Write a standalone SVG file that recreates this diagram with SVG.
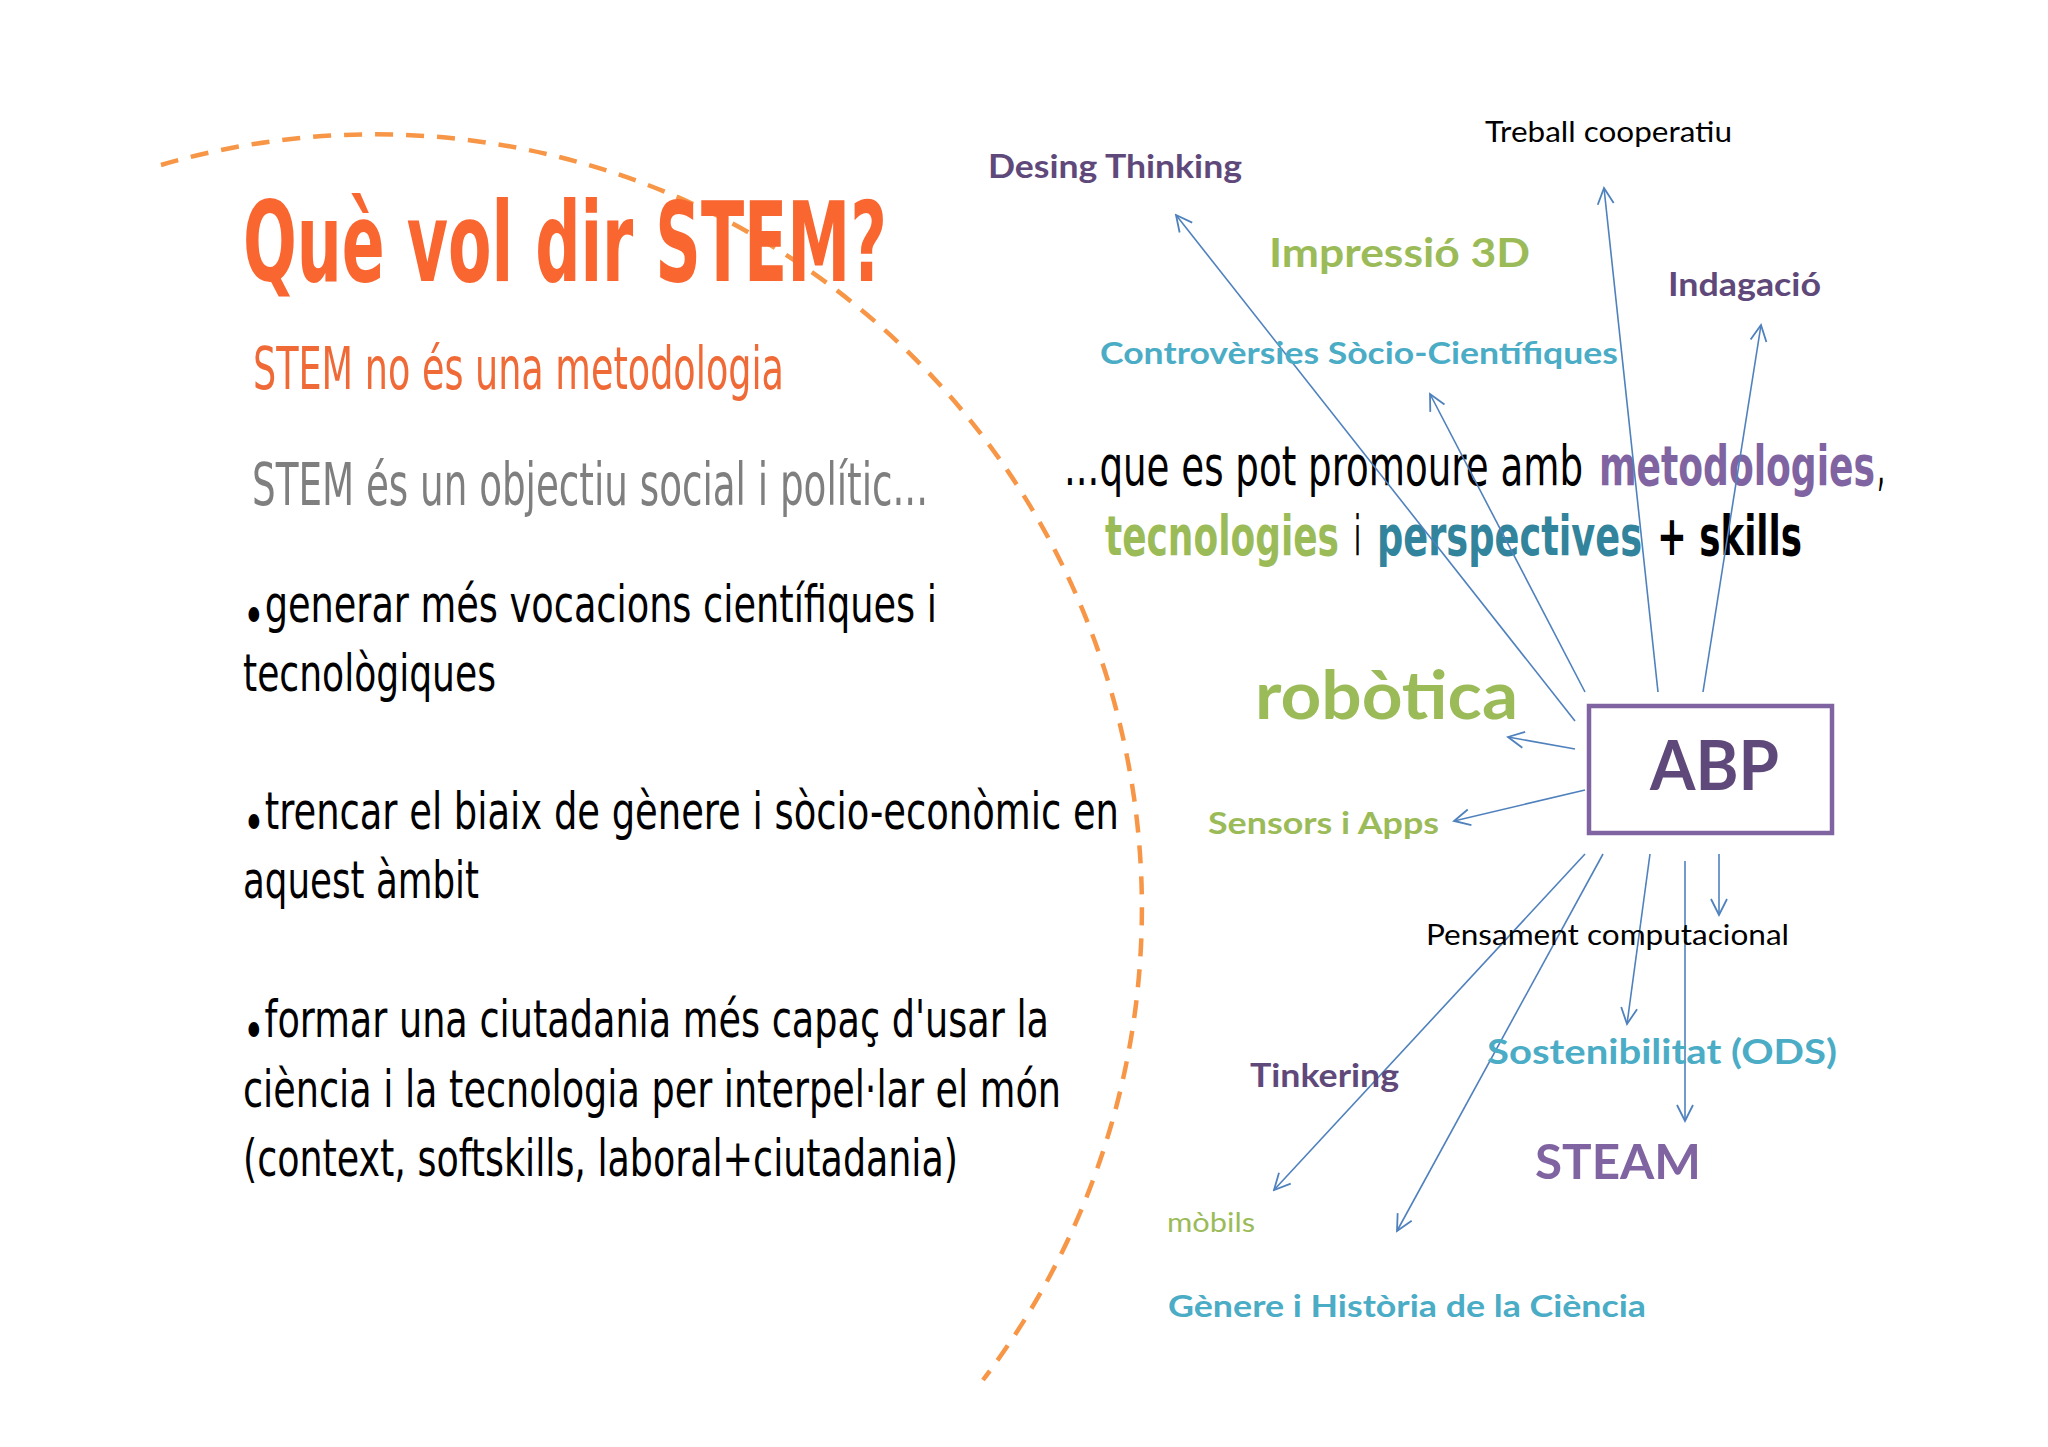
<svg xmlns="http://www.w3.org/2000/svg" width="2048" height="1447" viewBox="0 0 2048 1447">
<style>
.cond{font-family:"DejaVu Sans Condensed","DejaVu Sans",sans-serif;font-stretch:condensed}
.sans{font-family:Lato,"Open Sans","Liberation Sans",sans-serif}
.b{font-weight:bold}
.blk{fill:#000000}
.dpur{fill:#5F497A}
.pur{fill:#8064A2}
.grn{fill:#9BBB59}
.teal{fill:#4BACC6}
.dteal{fill:#31849B}
.conn{stroke:#4F81BD;stroke-width:1.6;fill:none;marker-end:url(#arr)}
</style>
<defs>
<marker id="arr" markerUnits="userSpaceOnUse" markerWidth="20" markerHeight="20" viewBox="0 0 20 20" refX="18" refY="10" orient="auto">
<path d="M2,2 L18,10 L2,18" fill="none" stroke="#4F81BD" stroke-width="1.8"/>
</marker>
</defs>
<rect x="0" y="0" width="2048" height="1447" fill="#FFFFFF"/>

<path id="arc" d="M161 165 A 767 774 0 0 1 983 1380" fill="none" stroke="#F79646" stroke-width="4.5" stroke-dasharray="18 13"/>

<g id="title">
<text class="cond b" x="243" y="281" font-size="110" fill="#F96630" textLength="644" lengthAdjust="spacingAndGlyphs">Què vol dir STEM?</text>
</g>
<g id="sub1">
<text class="cond" x="253" y="389" font-size="59" fill="#EF6A36" textLength="531" lengthAdjust="spacingAndGlyphs">STEM no és una metodologia</text>
</g>
<g id="sub2">
<text class="cond" x="252" y="505" font-size="59" fill="#7F7F7F" textLength="676" lengthAdjust="spacingAndGlyphs">STEM és un objectiu social i polític...</text>
</g>
<g id="bullets" class="cond blk" font-size="52">
<text x="243" y="622" textLength="694" lengthAdjust="spacingAndGlyphs"><tspan dy="12">•</tspan><tspan dy="-12">generar més vocacions científiques i</tspan></text>
<text x="243" y="691" textLength="253" lengthAdjust="spacingAndGlyphs">tecnològiques</text>
<text x="243" y="829" textLength="876" lengthAdjust="spacingAndGlyphs"><tspan dy="12">•</tspan><tspan dy="-12">trencar el biaix de gènere i sòcio-econòmic en</tspan></text>
<text x="243" y="898" textLength="236" lengthAdjust="spacingAndGlyphs">aquest àmbit</text>
<text x="243" y="1037" textLength="806" lengthAdjust="spacingAndGlyphs"><tspan dy="12">•</tspan><tspan dy="-12">formar una ciutadania més capaç d'usar la</tspan></text>
<text x="243" y="1107" textLength="818" lengthAdjust="spacingAndGlyphs">ciència i la tecnologia per interpel·lar el món</text>
<text x="243" y="1176" textLength="715" lengthAdjust="spacingAndGlyphs">(context, softskills, laboral+ciutadania)</text>
</g>

<g id="promoure" class="cond" font-size="55">
<text class="blk" x="1064" y="485" textLength="519" lengthAdjust="spacingAndGlyphs">...que es pot promoure amb</text>
<text class="pur b" x="1599" y="485" textLength="276" lengthAdjust="spacingAndGlyphs">metodologies</text>
<text class="blk" x="1877" y="485" textLength="8" lengthAdjust="spacingAndGlyphs">,</text>
<text class="grn b" x="1105" y="555" textLength="234" lengthAdjust="spacingAndGlyphs">tecnologies</text>
<text class="blk" x="1354" y="555" textLength="7" lengthAdjust="spacingAndGlyphs">i</text>
<text class="dteal b" x="1377" y="555" textLength="265" lengthAdjust="spacingAndGlyphs">perspectives</text>
<text class="blk b" x="1657" y="555" textLength="145" lengthAdjust="spacingAndGlyphs">+ skills</text>
</g>

<g id="connectors">
<line class="conn" x1="1575" y1="721" x2="1176" y2="215"/>
<line class="conn" x1="1585" y1="692" x2="1430" y2="394"/>
<line class="conn" x1="1658" y1="692" x2="1604" y2="188"/>
<line class="conn" x1="1703" y1="692" x2="1761" y2="325"/>
<line class="conn" x1="1575" y1="749" x2="1508" y2="737"/>
<line class="conn" x1="1585" y1="790" x2="1454" y2="821"/>
<line class="conn" x1="1585" y1="854" x2="1274" y2="1190"/>
<line class="conn" x1="1603" y1="854" x2="1397" y2="1231"/>
<line class="conn" x1="1650" y1="854" x2="1627" y2="1024"/>
<line class="conn" x1="1685" y1="861" x2="1685" y2="1121"/>
<line class="conn" x1="1719" y1="854" x2="1719" y2="915"/>
</g>

<g id="abp">
<rect x="1589" y="706" width="243" height="127" fill="none" stroke="#8064A2" stroke-width="4.5"/>
<text class="sans b dpur" x="1650" y="790" font-size="68" textLength="129" lengthAdjust="spacingAndGlyphs">ABP</text>
</g>
<g id="desing"><text class="sans b dpur" x="988" y="178" font-size="33" textLength="254" lengthAdjust="spacingAndGlyphs">Desing Thinking</text></g>
<g id="treball"><text class="sans blk" x="1485" y="142" font-size="29" textLength="247" lengthAdjust="spacingAndGlyphs">Treball cooperatiu</text></g>
<g id="impressio"><text class="sans b grn" x="1269" y="267" font-size="40" textLength="261" lengthAdjust="spacingAndGlyphs">Impressió 3D</text></g>
<g id="indagacio"><text class="sans b dpur" x="1668" y="296" font-size="33" textLength="153" lengthAdjust="spacingAndGlyphs">Indagació</text></g>
<g id="controversies"><text class="sans b teal" x="1100" y="364" font-size="31" textLength="518" lengthAdjust="spacingAndGlyphs">Controvèrsies Sòcio-Científiques</text></g>
<g id="robotica"><text class="sans b grn" x="1255" y="719" font-size="67" textLength="263" lengthAdjust="spacingAndGlyphs">robòtica</text></g>
<g id="sensors"><text class="sans b grn" x="1208" y="834" font-size="31" textLength="231" lengthAdjust="spacingAndGlyphs">Sensors i Apps</text></g>
<g id="pensament"><text class="sans blk" x="1426" y="945" font-size="28" textLength="363" lengthAdjust="spacingAndGlyphs">Pensament computacional</text></g>
<g id="sostenibilitat"><text class="sans b teal" x="1487" y="1064" font-size="34" textLength="350" lengthAdjust="spacingAndGlyphs">Sostenibilitat (ODS)</text></g>
<g id="tinkering"><text class="sans b dpur" x="1250" y="1087" font-size="32" textLength="149" lengthAdjust="spacingAndGlyphs">Tinkering</text></g>
<g id="steam"><text class="sans b pur" x="1535" y="1179" font-size="48" textLength="166" lengthAdjust="spacingAndGlyphs">STEAM</text></g>
<g id="mobils"><text class="sans grn" x="1167" y="1232" font-size="27" textLength="88" lengthAdjust="spacingAndGlyphs">mòbils</text></g>
<g id="genere"><text class="sans b teal" x="1168" y="1317" font-size="31" textLength="478" lengthAdjust="spacingAndGlyphs">Gènere i Història de la Ciència</text></g>
</svg>
